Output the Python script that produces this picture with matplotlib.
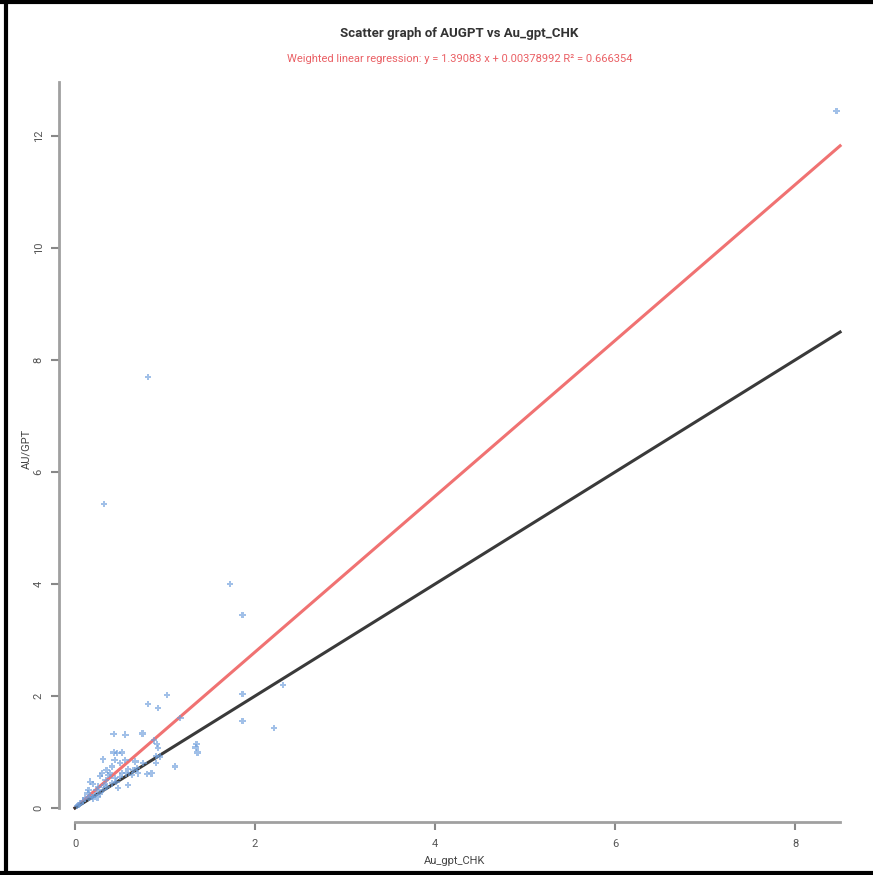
import numpy as np
import matplotlib
matplotlib.use("Agg")
import matplotlib.pyplot as plt
from matplotlib.lines import Line2D

plt.rcParams['font.family'] = ['Roboto', 'DejaVu Sans']

# data
au_gpt_chk = [8.46, 0.81, 0.32, 1.72, 1.86, 2.31, 1.86, 1.86, 2.21,
              0.43, 0.56, 0.75, 0.81, 0.92, 1.02, 1.17, 0.88, 0.91, 0.92,
              1.35, 1.34, 1.36, 1.11, 0.90, 0.90, 0.94, 0.85, 0.80, 0.76,
              0.67, 0.65, 0.59, 0.59, 0.48, 0.43, 0.47, 0.52, 0.44, 0.31,
              0.41, 0.30, 0.28, 0.37, 0.44, 0.50, 0.52, 0.57, 0.17, 0.20,
              0.14, 0.24, 0.22, 0.28, 0.35, 0.31, 0.41, 0.46, 0.06, 0.09,
              0.11, 0.16, 0.19, 0.20, 0.25, 0.02, 0.04, 0.34, 0.39, 0.63,
              0.69, 0.70, 0.50, 0.56, 0.35, 0.15, 0.32, 0.26]
augpt = [12.45, 7.70, 5.43, 4.00, 3.45, 2.20, 2.04, 1.55, 1.43,
         1.32, 1.31, 1.33, 1.86, 1.79, 2.02, 1.61, 1.21, 1.14, 1.07,
         1.14, 1.08, 0.99, 0.74, 0.80, 0.93, 0.92, 0.62, 0.61, 0.80,
         0.83, 0.68, 0.69, 0.41, 0.36, 0.99, 0.98, 0.99, 0.86, 0.87,
         0.74, 0.62, 0.57, 0.59, 0.53, 0.56, 0.62, 0.62, 0.47, 0.43,
         0.26, 0.32, 0.23, 0.26, 0.38, 0.32, 0.44, 0.47, 0.08, 0.13,
         0.17, 0.19, 0.20, 0.17, 0.19, 0.04, 0.05, 0.50, 0.62, 0.59,
         0.71, 0.62, 0.80, 0.86, 0.68, 0.32, 0.41, 0.38]

slope = 1.39083
intercept = 0.00378992
r2 = 0.666354
line_x = np.array([0, 8.5])

x_ticks = [0, 2, 4, 6, 8]
y_ticks = [0, 2, 4, 6, 8, 10, 12]

fig = plt.figure(figsize=(8.73, 8.75), dpi=100)
ax = fig.add_axes([59/873, 53/875, 791/873, 747/875])
ax.set_xlim(-16/90, 8.61)
ax.set_ylim(-14/56, 13.09)

ax.plot(line_x, slope*line_x + intercept, color='#f07272', lw=2.2, zorder=2)
ax.plot(line_x, line_x, color='#3a3a3a', lw=2.2, zorder=3)
ax.scatter(au_gpt_chk, augpt, marker='P', s=22, color='#6f9fdc',
           edgecolors='none', alpha=0.65, zorder=4)

# R style detached axes
for side in ['top', 'right']:
    ax.spines[side].set_visible(False)
ax.spines['left'].set_position(('data', -16/90))
ax.spines['bottom'].set_position(('data', -14/56))
ax.spines['left'].set_bounds(0, 12.96)
ax.spines['bottom'].set_bounds(0, 8.5)
for side in ['left', 'bottom']:
    ax.spines[side].set_color('#a0a0a0')
    ax.spines[side].set_linewidth(2)

ax.set_xticks(x_ticks)
ax.set_yticks(y_ticks)
ax.tick_params(colors='#888888', length=6, width=1.5, labelcolor='#555555',
               labelsize=8)
ax.tick_params(axis='x', pad=6)
ax.tick_params(axis='y', pad=5)
for lab in ax.get_yticklabels():
    lab.set_rotation(90)
    lab.set_va('center')

ax.set_xlabel('Au_gpt_CHK', fontsize=8, color='#444444', labelpad=5)
ax.set_ylabel('AU/GPT', fontsize=8, color='#444444', labelpad=2)

fig.text(459/873, 1 - 33/875, 'Scatter graph of AUGPT vs Au_gpt_CHK',
         ha='center', va='center', fontsize=9.5, fontweight='bold', color='#333333')
fig.text(460/873, 1 - 59/875,
         'Weighted linear regression: y = %s x + %s R² = %s' % (slope, intercept, r2),
         ha='center', va='center', fontsize=8, color='#ea6065')

# screenshot frame
fig.add_artist(Line2D([6/873, 6/873], [0, 1], color='black', lw=3))
fig.add_artist(Line2D([0, 1], [1 - 2/875, 1 - 2/875], color='black', lw=3))
fig.add_artist(Line2D([0, 1], [2/875, 2/875], color='black', lw=3))

fig.savefig('out.png', dpi=100)
